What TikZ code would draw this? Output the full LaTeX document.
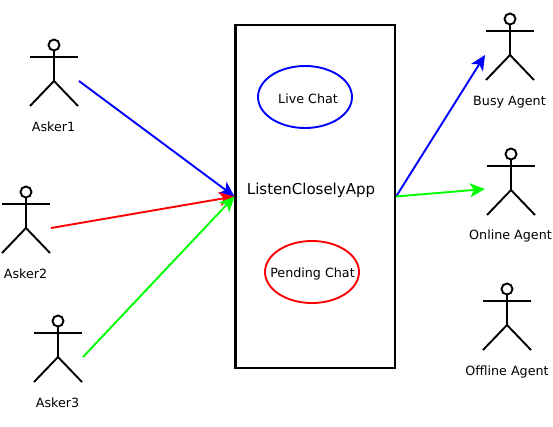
\documentclass[tikz,border=0pt]{standalone}
\usepackage{fontspec}
\setmainfont{DejaVu Sans}
\usetikzlibrary{arrows.meta,shapes.geometric}
\definecolor{pureblue}{RGB}{0,0,255}
\definecolor{purered}{RGB}{255,0,0}
\definecolor{puregreen}{RGB}{0,255,0}
\tikzset{
  lbl/.style={font=\fontsize{12.7}{14}\selectfont,inner sep=0pt,text=black},
  limb/.style={draw=black,line width=1.9pt},
  appbox/.style={draw=black,line width=2.2pt,rectangle,minimum width=159.5pt,minimum height=343pt,inner sep=0pt},
  chat/.style={ellipse,line width=1.9pt,minimum width=94pt,minimum height=62pt,inner sep=0pt},
  flow/.style={line width=1.9pt,-{Stealth[length=15pt,width=14pt,inset=4pt]},shorten >=0pt}
}
% #1 name, #2 x of head, #3 y of head, #4 label, #5 label x, #6 label y
\newcommand{\stickman}[6]{
  \node[draw=black,circle,line width=1.9pt,minimum size=11pt,inner sep=0pt] (#1head) at (#2,#3) {};
  \draw[limb] (#1head.south) -- (#2,#3+36);
  \draw[limb] (#2-24,#3+12) -- (#2+24,#3+12);
  \draw[limb] (#2-24,#3+61) -- (#2,#3+36) -- (#2+24,#3+61);
  \node[lbl] (#1label) at (#5,#6) {#4};
}
\begin{document}
\begin{tikzpicture}[x=1pt,y=-1pt]
\useasboundingbox (0,0) rectangle (553,426);
\stickman{askerA}{54}{45}{Asker1}{53.5}{127}
\stickman{askerB}{26}{192}{Asker2}{25.5}{274}
\stickman{askerC}{58}{321}{Asker3}{57.5}{403}
\stickman{busy}{510}{19}{Busy Agent}{509.5}{102}
\stickman{online}{511}{154}{Online Agent}{510.5}{236}
\stickman{offline}{507}{289}{Offline Agent}{507}{371.5}
\node[appbox] (app) at (315.25,196.5) {};
\node[font=\fontsize{15}{17}\selectfont,text=black,inner sep=0pt] (title) at (311,190.5) {ListenCloselyApp};
\node[draw=pureblue,chat] (live) at (305,97) {};
\node[lbl] (livetext) at (308,99) {Live Chat};
\node[draw=purered,chat] (pending) at (312,272) {};
\node[lbl] (pendingtext) at (312.5,274) {Pending Chat};
\coordinate (fromA) at (79,81);
\coordinate (fromB) at (51,228);
\coordinate (fromC) at (83,357);
\coordinate (toBusy) at (485,55);
\coordinate (toOnline) at (485,189);
\draw[flow,pureblue] (fromA) -- (app.west);
\draw[flow,purered] (fromB) -- (app.west);
\draw[flow,puregreen] (fromC) -- (app.west);
\draw[flow,pureblue] (app.east) -- (toBusy);
\draw[flow,puregreen] (app.east) -- (toOnline);
\end{tikzpicture}
\end{document}
